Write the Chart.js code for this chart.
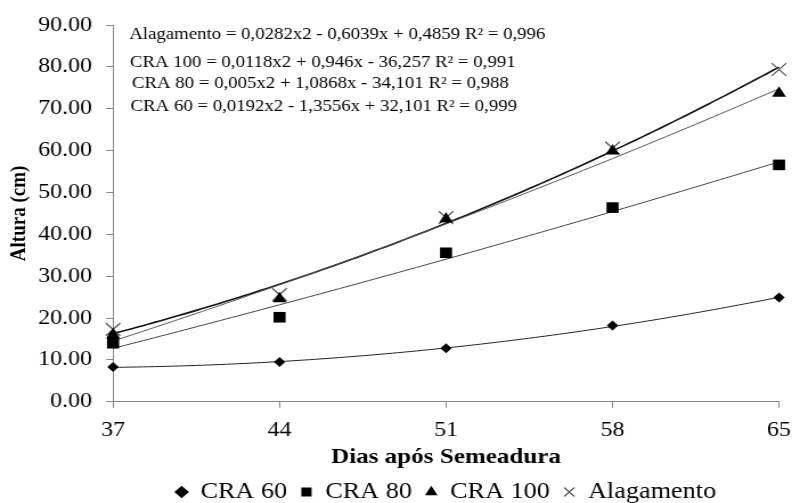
<!DOCTYPE html>
<html><head><meta charset="utf-8">
<script src="https://cdn.jsdelivr.net/npm/chart.js@4.4.1/dist/chart.umd.min.js"></script>
<style>
html,body{margin:0;padding:0;background:#fff;overflow:hidden;width:792px;height:503px}
#wrap{position:absolute;left:0;top:0;width:695px;height:503px;transform:scaleX(1.13957);transform-origin:0 0}
canvas{display:block}
</style></head><body>
<div id="wrap"><canvas id="c" width="695" height="503"></canvas></div>
<script>
// ---- data ----
const days = [37, 44, 51, 58, 65];
const cra60 = [8.3, 9.5, 12.8, 18.2, 24.9];
const cra80 = [14.0, 20.2, 35.6, 46.4, 56.6];
const cra100 = [16.0, 24.6, 43.7, 59.9, 73.7];
const alagamento = [17.3, 25.6, 44.0, 60.6, 79.4];
const seriesNames = ['CRA 60', 'CRA 80', 'CRA 100', 'Alagamento'];
const xTicks = [37, 44, 51, 58, 65];
const yTicks = [0, 10, 20, 30, 40, 50, 60, 70, 80, 90];
const equations = [
  'Alagamento = 0,0282x2 - 0,6039x + 0,4859 R\u00B2 = 0,996',
  'CRA 100 = 0,0118x2 + 0,946x - 36,257 R\u00B2 = 0,991',
  'CRA 80 = 0,005x2 + 1,0868x - 34,101 R\u00B2 = 0,988',
  'CRA 60 = 0,0192x2 - 1,3556x + 32,101 R\u00B2 = 0,999'
];
const xTitle = 'Dias após Semeadura';
const yTitle = 'Altura (cm)';

// ---- polynomial (order 2) least-squares trendline, as Excel does ----
function quadFit(xs, ys) {
  const m = xs.reduce((a, b) => a + b, 0) / xs.length;
  let S = [0, 0, 0, 0, 0], T = [0, 0, 0];
  xs.forEach((x, i) => {
    const u = x - m;
    for (let k = 0; k < 5; k++) S[k] += Math.pow(u, k);
    for (let k = 0; k < 3; k++) T[k] += ys[i] * Math.pow(u, k);
  });
  const A = [[S[0], S[1], S[2], T[0]], [S[1], S[2], S[3], T[1]], [S[2], S[3], S[4], T[2]]];
  for (let c = 0; c < 3; c++) {
    for (let r = c + 1; r < 3; r++) {
      const f = A[r][c] / A[c][c];
      for (let k = c; k < 4; k++) A[r][k] -= f * A[c][k];
    }
  }
  const b = [0, 0, 0];
  for (let r = 2; r >= 0; r--) {
    let s = A[r][3];
    for (let k = r + 1; k < 3; k++) s -= A[r][k] * b[k];
    b[r] = s / A[r][r];
  }
  return x => { const u = x - m; return b[0] + b[1] * u + b[2] * u * u; };
}
function trend(ys) {
  const f = quadFit(days, ys);
  const pts = [];
  const x0 = days[0], x1 = days[days.length - 1];
  for (let i = 0; i <= 112; i++) { const x = x0 + (x1 - x0) * i / 112; pts.push({x, y: f(x)}); }
  return pts;
}
const pts = ys => days.map((d, i) => ({x: d, y: ys[i]}));

Chart.defaults.font.family = '"Liberation Serif", "Times New Roman", serif';
Chart.defaults.color = '#000';

const eqPlugin = {
  id: 'eqText',
  afterDraw(chart) {
    const {ctx, chartArea} = chart;
    const dx = [14.2, 14.8, 16.6, 15.4];
    const by = [39.3, 66.7, 88.3, 110.7];
    ctx.save();
    ctx.font = '16.5px "Liberation Serif", serif';
    ctx.fillStyle = '#000';
    ctx.textAlign = 'left';
    ctx.textBaseline = 'alphabetic';
    equations.forEach((t, i) => ctx.fillText(t, chartArea.left + dx[i], by[i]));
    ctx.restore();
  }
};

const axisGray = '#868686';
new Chart(document.getElementById('c'), {
  type: 'scatter',
  data: {
    datasets: [
      {label: seriesNames[0], data: pts(cra60), pointStyle: 'rectRot', pointRadius: 5, backgroundColor: '#000', borderColor: '#000', borderWidth: 0, showLine: false, clip: false},
      {label: seriesNames[1], data: pts(cra80), pointStyle: 'rect', pointRadius: 7.5, backgroundColor: '#000', borderColor: '#000', borderWidth: 0, showLine: false, clip: false},
      {label: seriesNames[2], data: pts(cra100), pointStyle: 'triangle', pointRadius: 7, backgroundColor: '#000', borderColor: '#000', borderWidth: 0, showLine: false, clip: false},
      {label: seriesNames[3], data: pts(alagamento), pointStyle: 'crossRot', pointRadius: 9, backgroundColor: '#555', borderColor: '#555', borderWidth: 1.2, showLine: false, clip: false},
      {label: 't60', data: trend(cra60), showLine: true, pointRadius: 0, borderColor: '#222', borderWidth: 1, fill: false, clip: false},
      {label: 't80', data: trend(cra80), showLine: true, pointRadius: 0, borderColor: '#444', borderWidth: 1, fill: false, clip: false},
      {label: 't100', data: trend(cra100), showLine: true, pointRadius: 0, borderColor: '#555', borderWidth: 1, fill: false, clip: false},
      {label: 'tAl', data: trend(alagamento), showLine: true, pointRadius: 0, borderColor: '#111', borderWidth: 1.6, fill: false, clip: false}
    ]
  },
  options: {
    responsive: false,
    animation: false,
    devicePixelRatio: 1,
    layout: {padding: {top: 19.5, right: 0, bottom: -10.5, left: 0}},
    plugins: {
      tooltip: {enabled: false},
      legend: {
        position: 'bottom',
        fullSize: false,
        labels: {
          usePointStyle: true,
          boxWidth: 10,
          boxHeight: 9,
          padding: 12,
          color: '#000',
          font: {size: 23, family: '"Liberation Serif", serif'},
          filter: item => item.datasetIndex < 4
        }
      }
    },
    scales: {
      x: {
        type: 'linear',
        min: xTicks[0],
        max: xTicks[xTicks.length - 1],
        afterBuildTicks: s => { s.ticks = xTicks.map(v => ({value: v})); },
        afterFit: s => { s.height = 66.7; s.paddingRight = 11.4; s.paddingLeft = 0; },
        grid: {display: true, drawOnChartArea: false, drawTicks: true, tickLength: 6, color: axisGray},
        border: {display: true, color: axisGray, width: 1},
        ticks: {padding: 10.4, color: '#000', font: {size: 21}, maxRotation: 0, callback: v => String(v)},
        title: {display: true, text: xTitle, color: '#000', font: {size: 22, weight: 'bold', lineHeight: 1}, padding: {top: 0, bottom: 0}}
      },
      y: {
        type: 'linear',
        min: yTicks[0],
        max: yTicks[yTicks.length - 1],
        afterBuildTicks: s => { s.ticks = yTicks.map(v => ({value: v})); },
        afterFit: s => { s.width = 99.2; },
        grid: {display: true, drawOnChartArea: false, drawTicks: true, tickLength: 6, color: axisGray},
        border: {display: true, color: axisGray, width: 1},
        ticks: {padding: 12.5, color: '#000', font: {size: 21}, callback: v => Number(v).toFixed(2)},
        title: {display: true, text: yTitle, color: '#000', font: {size: 19, weight: 'bold'}, padding: {top: 6.1, bottom: 0}}
      }
    }
  },
  plugins: [eqPlugin]
});
</script>
</body></html>
